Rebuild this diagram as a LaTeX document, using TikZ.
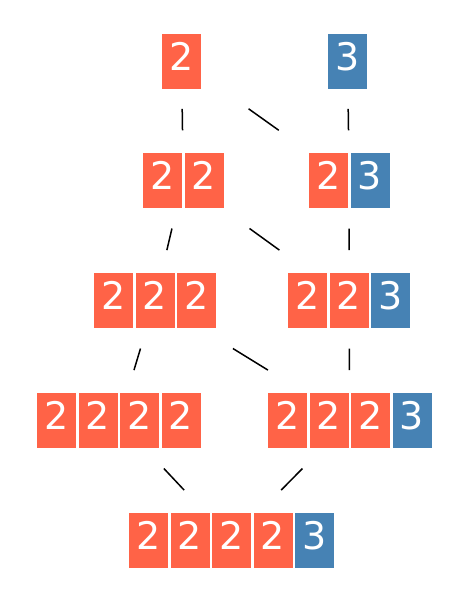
\documentclass[tikz,border=0pt]{standalone}
\usepackage{fontspec}
\setmainfont{DejaVu Sans}
\usetikzlibrary{calc,fit}
\definecolor{redcell}{HTML}{FF6347}
\definecolor{bluecell}{HTML}{4682B4}
\begin{document}
\begin{tikzpicture}[x=1pt, y=-1pt,
    cell/.style={minimum width=39pt, minimum height=55pt, inner sep=0pt,
      text=white, font=\fontsize{38}{40}\selectfont, text height=28pt, text depth=10pt},
    cell2/.style={cell, fill=redcell},
    cell3/.style={cell, fill=bluecell},
    link/.style={line width=1.5pt, black}]
    \useasboundingbox (0,0) rectangle (466,600);
    % groups: name / left edge / centre y / number of cells / digits
    \foreach \g/\x/\y/\n/\list in {2/162/61/1/{2}, 3/328/61/1/{3},
        22/143/180.5/2/{2,2}, 23/309/180.5/2/{2,3},
        222/94/300.5/3/{2,2,2}, 223/288/300.5/3/{2,2,3},
        2222/37/420.5/4/{2,2,2,2}, 2223/268/420.5/4/{2,2,2,3},
        22223/129/540.5/5/{2,2,2,2,3}} {
      \foreach \d [count=\i] in \list
        \node[cell\d] (g\g-\i) at ({\x+(\i-1)*41.5+19.5}, \y) {\d};
      \node[fit=(g\g-1)(g\g-\n), inner sep=0pt] (g\g) {};
    }
    \foreach \a/\b in {2/22, 2/23, 3/23, 22/222, 22/223, 23/223,
        222/2222, 222/2223, 223/2223, 2222/22223, 2223/22223}
      \draw[link] ($(g\a)!0.4!(g\b)$) -- ($(g\a)!0.58!(g\b)$);
\end{tikzpicture}
\end{document}
